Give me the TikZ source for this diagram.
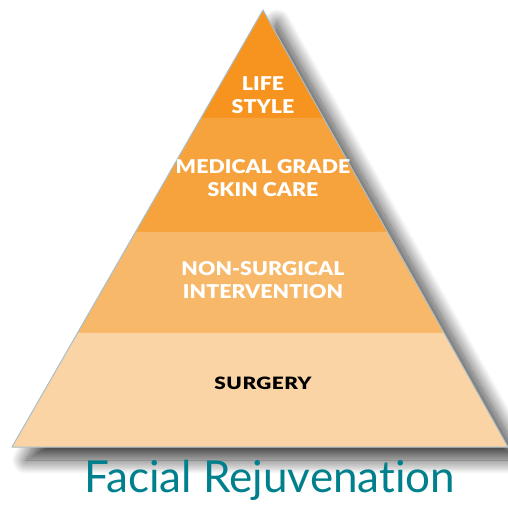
\documentclass[tikz,border=0pt]{standalone}
\usepackage{fontspec}
\setmainfont{Lato}[Ligatures=NoCommon]
\newfontfamily\heavyfont{Lato Black}[FakeStretch=1.12]
\newfontfamily\widefont{Lato Black}[FakeStretch=1.22]
\usetikzlibrary{calc,positioning,shadows.blur}
\definecolor{tierone}{RGB}{247,148,32}
\definecolor{tiertwo}{RGB}{246,163,62}
\definecolor{tierthree}{RGB}{248,184,105}
\definecolor{tierfour}{RGB}{250,212,164}
\definecolor{rimblue}{RGB}{168,190,200}
\definecolor{titleteal}{RGB}{0,128,140}

\begin{document}
\begin{tikzpicture}[x=1pt,y=-1pt]
  \tikzstyle{tier}=[text=white,font=\heavyfont\addfontfeatures{LetterSpace=0.5}\fontsize{19}{23}\selectfont,align=center]
  \useasboundingbox (0,0) rectangle (508,505);
  \coordinate (apex) at (263,10);
  \coordinate (bl) at (12,447);
  \coordinate (br) at (508,447);
  % cut points on the two sides
  \coordinate (l1) at ($(apex)!0.247!(bl)$);
  \coordinate (r1) at ($(apex)!0.247!(br)$);
  \coordinate (l2) at ($(apex)!0.508!(bl)$);
  \coordinate (r2) at ($(apex)!0.508!(br)$);
  \coordinate (l3) at ($(apex)!0.739!(bl)$);
  \coordinate (r3) at ($(apex)!0.739!(br)$);

  \path[fill=white,blur shadow={shadow xshift=14pt,shadow yshift=-13pt,shadow blur radius=14pt,shadow blur steps=30,shadow opacity=75}] (apex) -- (bl) -- (br) -- cycle;
  \fill[tierone] (apex) -- (l1) -- (r1) -- cycle;
  \fill[tiertwo] (l1) -- (l2) -- (r2) -- (r1) -- cycle;
  \fill[tierthree] (l2) -- (l3) -- (r3) -- (r2) -- cycle;
  \fill[tierfour] (l3) -- (bl) -- (br) -- (r3) -- cycle;
  \draw[rimblue,line width=1pt,line join=round] (apex) -- (bl) -- (br) -- cycle;

  \node[tier] (life) at (263,95) {LIFE\\STYLE};
  \node[tier] (skin) at (263,178) {MEDICAL GRADE\\SKIN CARE};
  \node[tier] (nonsurg) at (263,280) {NON-SURGICAL\\INTERVENTION};
  \node[tier,text=black,font=\widefont\addfontfeatures{LetterSpace=3}\fontsize{17}{20}\selectfont] (surg) at (263,383) {SURGERY};

  \node[text=titleteal,font=\fontsize{44}{50}\selectfont,below=10pt of $(bl)!0.52!(br)$] (title) {Facial Rejuvenation};
\end{tikzpicture}
\end{document}
